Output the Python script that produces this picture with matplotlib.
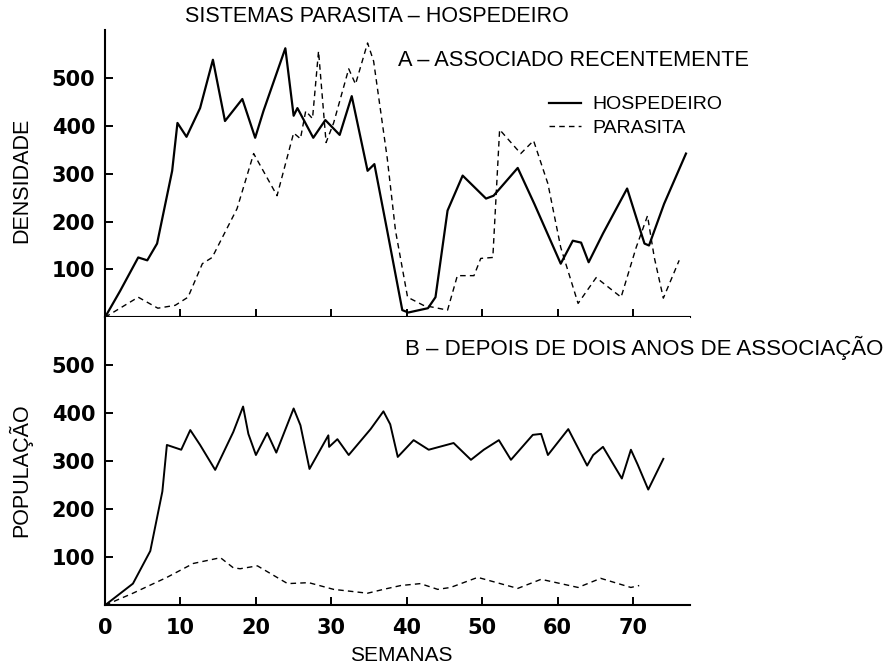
import matplotlib.pyplot as plt

plt.rcParams['font.family'] = ['Liberation Sans', 'DejaVu Sans']

# A - recently associated (weeks, density)
semanas_hosp_a = [0, 2.0, 4.4, 5.6, 6.9, 8.9, 9.6, 10.8, 12.6, 14.3, 15.9, 18.2, 19.9, 21.0,
                  23.9, 25.0, 25.5, 27.6, 29.2, 31.1, 32.7, 34.8, 35.7, 37.4, 39.4, 40.2,
                  42.8, 43.8, 45.4, 47.4, 50.5, 51.5, 54.7, 56.9, 60.4, 62.0, 63.1, 64.1,
                  66.0, 69.2, 71.5, 72.1, 74.1, 77.0]
hosp_a = [0, 55, 125, 119, 154, 306, 406, 377, 437, 538, 410, 456, 375, 431,
          562, 421, 437, 375, 412, 381, 462, 306, 320, 181, 15, 10,
          19, 42, 223, 296, 248, 254, 312, 237, 112, 160, 156, 115,
          175, 269, 154, 150, 237, 342]

semanas_para_a = [0, 4.4, 7.0, 9.3, 11.0, 12.9, 14.2, 17.5, 19.7, 22.8, 25.0, 25.9, 26.6,
                  27.5, 28.3, 29.3, 30.3, 32.3, 33.2, 34.8, 35.6, 37.4, 38.5, 40.1, 42.2,
                  45.4, 46.7, 48.9, 49.8, 51.4, 52.3, 55.1, 56.8, 58.7, 60.4, 62.7, 65.1,
                  68.4, 70.4, 71.9, 72.8, 74.0, 76.1]
para_a = [0, 42, 19, 25, 42, 112, 125, 227, 342, 254, 385, 373, 431,
          415, 556, 365, 406, 519, 487, 573, 535, 333, 181, 42, 25,
          15, 87, 87, 123, 125, 392, 342, 369, 279, 146, 29, 83,
          42, 146, 212, 125, 40, 119]

# B - after two years of association (weeks, population)
semanas_hosp_b = [0, 3.7, 6.0, 7.6, 8.2, 10.1, 11.3, 12.6, 14.6, 17.0, 18.3, 19.0, 20.0,
                  21.5, 22.7, 25.0, 25.9, 27.1, 29.6, 29.7, 30.8, 32.3, 35.2, 36.9, 37.8,
                  38.8, 40.9, 42.9, 46.2, 48.5, 50.2, 52.2, 53.8, 56.7, 57.8, 58.7, 61.4,
                  63.9, 64.7, 66.0, 68.5, 69.7, 70.6, 72.0, 74.0]
hosp_b = [0, 45, 113, 237, 334, 324, 365, 334, 282, 361, 414, 357, 313,
          359, 318, 410, 375, 284, 354, 330, 346, 313, 367, 404, 377,
          309, 344, 324, 338, 303, 324, 344, 303, 355, 357, 313, 367,
          291, 313, 330, 264, 324, 293, 241, 305]

semanas_para_b = [0, 3.7, 8.2, 11.7, 15.3, 17.0, 17.9, 20.2, 24.2, 27.0, 30.3, 34.8, 36.9,
                  39.2, 41.8, 44.1, 45.8, 49.4, 54.7, 57.8, 62.7, 65.7, 69.7, 70.8]
para_b = [0, 25, 58, 87, 99, 78, 76, 82, 45, 47, 33, 25, 33,
          41, 45, 33, 37, 58, 35, 54, 37, 56, 37, 41]

y_ticks = [100, 200, 300, 400, 500]
x_ticks = [0, 10, 20, 30, 40, 50, 60, 70]

fig = plt.figure(figsize=(8.9, 6.68), dpi=100)
ax_a = fig.add_axes([0.118, 0.525, 0.657, 0.43])
ax_b = fig.add_axes([0.118, 0.094, 0.657, 0.431])

tick_font = dict(family='DejaVu Sans', weight='bold', size=15)

for ax in (ax_a, ax_b):
    ax.set_xlim(0, 77.5)
    ax.set_ylim(0, 600)
    ax.spines['top'].set_visible(False)
    ax.spines['right'].set_visible(False)
    for s in ('left', 'bottom'):
        ax.spines[s].set_linewidth(1.5)
    ax.set_yticks(y_ticks)
    ax.set_xticks(x_ticks)
    ax.tick_params(direction='in', length=6, width=1.4, pad=7)
    for lab in ax.get_yticklabels():
        lab.set(**tick_font)

ax_a.tick_params(axis='x', labelbottom=False)
ax_b.tick_params(axis='x', pad=9)
for lab in ax_b.get_xticklabels():
    lab.set(**tick_font)

ax_a.plot(semanas_hosp_a, hosp_a, color='black', lw=1.6, solid_joinstyle='round',
          label='HOSPEDEIRO')
ax_a.plot(semanas_para_a, para_a, color='black', lw=1.0, dashes=(4, 3),
          label='PARASITA')
ax_b.plot(semanas_hosp_b, hosp_b, color='black', lw=1.4, solid_joinstyle='round')
ax_b.plot(semanas_para_b, para_b, color='black', lw=1.0, dashes=(4, 3))

leg = ax_a.legend(loc='upper left', bbox_to_anchor=(0.743, 0.805), frameon=False,
                  fontsize=14, borderpad=0, handlelength=1.65, handletextpad=0.55,
                  labelspacing=0.3)

ax_a.set_ylabel('DENSIDADE', fontsize=15.5)
ax_b.set_ylabel('POPULAÇÃO', fontsize=15.5)
ax_a.yaxis.set_label_coords(-0.124, 0.477)
ax_b.yaxis.set_label_coords(-0.124, 0.47)
ax_b.set_xlabel('SEMANAS', fontsize=15)
ax_b.xaxis.set_label_coords(0.506, -0.142)

fig.text(0.208, 0.975, 'SISTEMAS PARASITA – HOSPEDEIRO', fontsize=15.5, va='center')
ax_a.text(0.501, 0.895, 'A – ASSOCIADO RECENTEMENTE', fontsize=15.7,
          transform=ax_a.transAxes, va='center')
ax_b.text(0.513, 0.892, 'B – DEPOIS DE DOIS ANOS DE ASSOCIAÇÃO', fontsize=16,
          transform=ax_b.transAxes, va='center', clip_on=False)

fig.savefig('out.png', dpi=100)
